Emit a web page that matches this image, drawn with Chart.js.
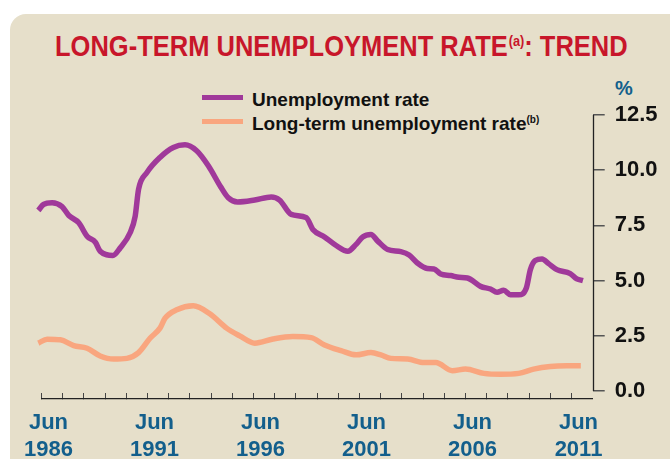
<!DOCTYPE html>
<html>
<head>
<meta charset="utf-8">
<script src="https://cdn.jsdelivr.net/npm/chart.js@4/dist/chart.umd.min.js"></script>
<style>
    body { margin: 0; background: #fff; }
    #wrap { position: relative; width: 670px; height: 459px; overflow: hidden; }
    .panel {
        position: absolute; left: 10px; top: 14px; width: 680px; height: 460px;
        background: #e6dfca; border-top-left-radius: 16px;
    }
    .title {
        position: absolute; left: 55px; top: 31px; white-space: nowrap;
        font: bold 30px/30px "Liberation Sans", sans-serif;
        color: #c8162a; transform-origin: 0 0;
    }
    .title sup {
        font-size: 15px; line-height: 15px; position: relative; top: 2px;
        vertical-align: top; margin-left: 1px;
    }
    .legend {
        position: absolute; left: 202px; top: 88px;
        font: bold 19px/24px "Liberation Sans", sans-serif; color: #111;
    }
    .legend div { white-space: nowrap; }
    .legend span.key {
        display: inline-block; width: 41px; height: 5px; margin-right: 9px; vertical-align: 6px;
    }
    .legend sup { font-size: 10px; line-height: 10px; position: relative; top: 3px; vertical-align: top; }
    .unit {
        position: absolute; left: 615px; top: 76px;
        font: bold 20px/24px "Liberation Sans", sans-serif; color: #135f8c;
    }
    canvas { position: absolute; left: 0; top: 0; }
</style>
</head>
<body>
<div id="wrap">
    <div class="panel"></div>
    <div class="title" id="title">LONG-TERM UNEMPLOYMENT RATE<sup>(a)</sup>: TREND</div>
    <div class="legend">
        <div><span class="key" style="background:#a0399a"></span>Unemployment rate</div>
        <div><span class="key" style="background:#f9a67f"></span>Long-term unemployment rate<sup>(b)</sup></div>
    </div>
    <div class="unit">%</div>
    <canvas id="trendChart" width="670" height="459"></canvas>
</div>

<script>
// Unemployment rate, trend (%), by decimal year
const unempYears = [
    1985.85, 1986.1, 1986.5, 1986.97, 1987.29, 1987.76, 1988.15, 1988.54, 1988.77, 1989.37,
    1989.71, 1990.18, 1990.42, 1990.58, 1990.97, 1991.59, 1992.22, 1992.77, 1993.32, 1993.87,
    1994.45, 1994.81, 1995.25, 1996.06, 1996.84, 1997.23, 1997.78, 1998.49, 1998.8, 1999.35,
    1999.9, 2000.45, 2000.84, 2001.15, 2001.54, 2001.86, 2002.33, 2002.95, 2003.34, 2003.73,
    2004.2, 2004.51, 2004.83, 2005.3, 2005.69, 2006.09, 2006.71, 2007.18, 2007.49, 2007.8,
    2008.12, 2008.51, 2008.87, 2009.06, 2009.29, 2009.61, 2009.92, 2010.31, 2010.94, 2011.25,
    2011.54
];
const unempRate = [
    8.18, 8.45, 8.53, 8.35, 7.95, 7.62, 7.01, 6.74, 6.33, 6.14,
    6.48, 7.17, 7.92, 9.14, 9.89, 10.58, 11.03, 11.15, 10.88, 10.20,
    9.25, 8.75, 8.56, 8.65, 8.79, 8.65, 8.0, 7.85, 7.32, 6.98,
    6.59, 6.33, 6.64, 6.98, 7.09, 6.79, 6.41, 6.31, 6.16, 5.80,
    5.55, 5.53, 5.30, 5.23, 5.15, 5.12, 4.74, 4.62, 4.47, 4.56,
    4.36, 4.36, 4.67, 5.5, 5.91, 5.98, 5.77, 5.5, 5.32, 5.08,
    5.0
];

// Long-term unemployment rate, trend (%)
const longTermYears = [
    1985.85, 1986.27, 1986.89, 1987.52, 1988.15, 1988.77, 1989.4, 1990.03, 1990.58, 1991.12,
    1991.59, 1991.83, 1992.38, 1993.16, 1993.94, 1994.73, 1995.35, 1996.06, 1996.92, 1997.86,
    1998.72, 1999.35, 2000.13, 2000.84, 2001.54, 2002.01, 2002.48, 2003.27, 2004.05, 2004.6,
    2005.38, 2006.0, 2006.87, 2007.65, 2008.51, 2009.21, 2010.0, 2010.78, 2011.44
];
const longTermRate = [
    2.17, 2.35, 2.32, 2.06, 1.94, 1.59, 1.45, 1.48, 1.74, 2.39,
    2.85, 3.30, 3.68, 3.86, 3.5, 2.85, 2.5, 2.17, 2.36, 2.47,
    2.42, 2.09, 1.83, 1.64, 1.74, 1.64, 1.48, 1.45, 1.29, 1.29,
    0.92, 1.0, 0.80, 0.76, 0.80, 0.99, 1.11, 1.14, 1.14
];

// Axis ticks
const yearTicks = [];
for (let y = 1986; y <= 2011; y++) yearTicks.push(y);
const labelYears = [1986, 1991, 1996, 2001, 2006, 2011];
const rateTicks = [0, 2.5, 5, 7.5, 10, 12.5];

const toPoints = (xs, ys) => xs.map((x, i) => ({ x: x, y: ys[i] }));

// squeeze the heading into a condensed look
const title = document.getElementById('title');
title.style.transform = 'scaleX(' + (573 / title.offsetWidth).toFixed(3) + ')';

// y axis line only spans the labelled range, not the whole chart area
const rateAxisLine = {
    id: 'rateAxisLine',
    afterDraw(chart) {
        const { ctx, chartArea, scales } = chart;
        const x = Math.round(chartArea.right) + 0.5;
        ctx.save();
        ctx.strokeStyle = '#222';
        ctx.lineWidth = 1.3;
        ctx.beginPath();
        ctx.moveTo(x, scales.y.getPixelForValue(rateTicks[0]));
        ctx.lineTo(x, scales.y.getPixelForValue(rateTicks[rateTicks.length - 1]));
        ctx.stroke();
        ctx.restore();
    }
};

new Chart(document.getElementById('trendChart'), {
    type: 'line',
    data: {
        datasets: [{
            label: 'Unemployment rate',
            data: toPoints(unempYears, unempRate),
            borderColor: '#a0399a',
            borderWidth: 5.5,
            pointRadius: 0,
            clip: false,
            cubicInterpolationMode: 'monotone'
        }, {
            label: 'Long-term unemployment rate',
            data: toPoints(longTermYears, longTermRate),
            borderColor: '#f9a67f',
            borderWidth: 5.5,
            pointRadius: 0,
            clip: false,
            cubicInterpolationMode: 'monotone'
        }]
    },
    options: {
        responsive: false,
        animation: false,
        layout: {
            padding: { left: 39.3, top: 115, right: 0, bottom: 0 }
        },
        plugins: {
            legend: { display: false },
            tooltip: { enabled: false }
        },
        scales: {
            x: {
                type: 'linear',
                position: 'bottom',
                min: 1986,
                max: 2012,
                afterBuildTicks: s => { s.ticks = yearTicks.map(v => ({ value: v })); },
                afterFit: s => { s.height = 60; },
                border: { display: true, color: '#222', width: 1.3 },
                grid: {
                    drawOnChartArea: false,
                    drawTicks: true,
                    tickLength: -6,
                    color: '#444',
                    lineWidth: 1
                },
                ticks: {
                    autoSkip: false,
                    maxRotation: 0,
                    labelOffset: 7,
                    padding: 17,
                    color: '#135f8c',
                    font: { family: 'Liberation Sans', weight: 'bold', size: 22, lineHeight: 1.2 },
                    callback: v => labelYears.includes(v) ? ['Jun', String(v)] : ''
                }
            },
            y: {
                type: 'linear',
                position: 'right',
                min: -0.36,
                max: 12.5,
                afterBuildTicks: s => { s.ticks = rateTicks.map(v => ({ value: v })); },
                afterFit: s => { s.width = 77.3; },
                border: { display: false },
                grid: {
                    drawOnChartArea: false,
                    drawTicks: true,
                    tickLength: 12,
                    color: '#555',
                    lineWidth: 1.5
                },
                ticks: {
                    padding: 10,
                    color: '#111',
                    font: { family: 'Liberation Sans', weight: 'bold', size: 22 },
                    callback: v => v.toFixed(1)
                }
            }
        }
    },
    plugins: [rateAxisLine]
});
</script>
</body>
</html>
